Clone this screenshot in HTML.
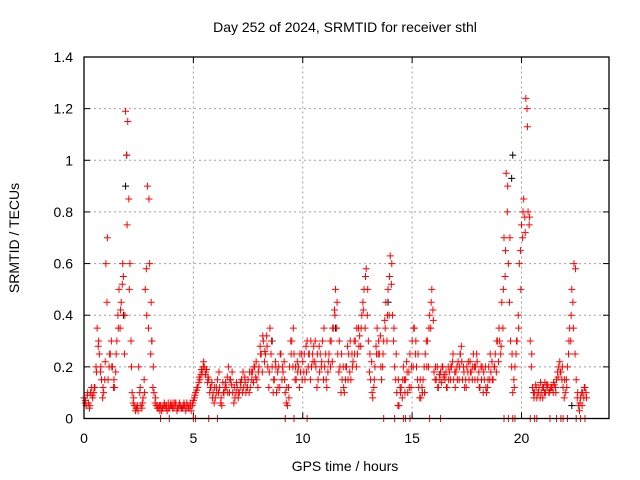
<!DOCTYPE html>
<html><head><meta charset="utf-8"><style>
body{margin:0;background:#fff}
svg{display:block;font-family:"Liberation Sans",sans-serif}
</style></head><body>
<svg id="chart" width="640" height="480" viewBox="0 0 640 480" xmlns="http://www.w3.org/2000/svg">
<rect width="640" height="480" fill="#fff"/>
<text x="345" y="32" font-size="14" text-anchor="middle" fill="#000">Day 252 of 2024, SRMTID for receiver sthl</text>
<text transform="translate(19,238) rotate(-90)" font-size="14" text-anchor="middle">SRMTID / TECUs</text>
<text x="345" y="471" font-size="14" text-anchor="middle">GPS time / hours</text>
<g id="grid"></g>
<g id="ticks"></g>
<g id="pts"></g>
<rect x="84" y="57" width="525" height="361.5" fill="none" stroke="#000" stroke-width="1.3"/>
</svg>
<script>
const xTicks=[0,5,10,15,20];
const yTicks=[0,0.2,0.4,0.6,0.8,1,1.2,1.4];
const yTickLabels=["0","0.2","0.4","0.6","0.8","1","1.2","1.4"];
const redA=[0.08,0.05,0.06,0.1,0.08,0.12,0.35,0.25,0.15,0.1,0.6,0.15,0.25,0.2,0.12,0.3,0.5,0.45,0.55,1.19,1.15,0.6,0.1,0.05,0.04,0.2,0.05,0.08,0.5,0.9,0.6,0.3,0.1,0.05,0.04,0.05,0.04,0.05,0.03,0.04,0.05,0.04,0.06,0.04,0.05,0.04,0.05,0.06,0.04,0.03,0.07,0.1,0.12,0.15,0.18,0.2,0.19,0.15,0.12,0.1,0.08,0.15,0.12,0.05,0.1,0.12,0.2,0.15,0.1,0.08,0.12,0.1,0.15,0.12,0.1,0.15,0.12,0.18,0.2,0.15,0.2,0.25,0.3,0.25,0.2,0.35,0.2,0.15,0.1,0.2,0.25,0.18,0.1,0.05,0.2,0.3,0.25,0.15,0.2,0.18,0.22,0.15,0.3,0.25,0.2,0.28,0.2,0.15,0.25,0.3,0.2,0.12,0.25,0.3,0.35,0.5,0.25,0.2,0.15,0.1,0.2,0.25,0.15,0.22,0.3,0.25,0.32,0.4,0.5,0.58,0.3,0.15,0.08,0.2,0.35,0.25,0.15,0.3,0.45,0.5,0.63,0.4,0.2,0.1,0.05,0.12,0.2,0.15,0.1,0.25,0.3,0.35,0.2,0.12,0.08,0.15,0.25,0.3,0.4,0.5,0.18,0.15,0.12,0.18,0.2,0.15,0.12,0.18,0.2,0.15,0.18,0.22,0.25,0.15,0.12,0.2,0.15,0.18,0.25,0.2,0.15,0.12,0.2,0.15,0.1,0.2,0.18,0.15,0.25,0.3,0.3,0.45,0.7,0.95,0.6,0.3,0.1,0.2,0.3,0.6,0.75,0.85,1.24,0.8,0.3,0.12,0.1,0.08,0.12,0.1,0.12,0.1,0.13,0.11,0.12,0.13,0.15,0.2,0.18,0.12,0.1,0.2,0.35,0.5,0.6,0.15,0.05,0.08,0.1,0.12];
const redB=[0.06,0.09,0.04,0.12,0.1,0.2,0.28,0.18,0.08,0.15,0.45,0.2,0.3,0.12,0.18,0.4,0.35,0.52,0.25,1.02,0.85,0.3,0.06,0.03,0.05,0.1,0.04,0.15,0.58,0.35,0.25,0.12,0.06,0.04,0.05,0.03,0.05,0.04,0.06,0.05,0.04,0.06,0.03,0.05,0.04,0.05,0.03,0.05,0.06,0.05,0.08,0.11,0.14,0.17,0.2,0.17,0.14,0.1,0.14,0.06,0.12,0.1,0.06,0.14,0.12,0.16,0.1,0.13,0.06,0.1,0.08,0.14,0.1,0.16,0.12,0.1,0.18,0.14,0.16,0.12,0.28,0.18,0.22,0.32,0.12,0.25,0.1,0.22,0.18,0.12,0.15,0.22,0.06,0.12,0.3,0.2,0.15,0.22,0.12,0.25,0.18,0.28,0.2,0.15,0.25,0.22,0.12,0.28,0.2,0.15,0.25,0.18,0.3,0.22,0.42,0.35,0.18,0.1,0.2,0.15,0.28,0.18,0.25,0.3,0.2,0.35,0.28,0.45,0.35,0.4,0.18,0.22,0.12,0.28,0.25,0.32,0.2,0.38,0.3,0.4,0.52,0.3,0.15,0.05,0.12,0.08,0.15,0.22,0.18,0.12,0.2,0.25,0.15,0.08,0.12,0.2,0.3,0.2,0.35,0.42,0.15,0.2,0.17,0.14,0.16,0.18,0.2,0.15,0.22,0.18,0.2,0.15,0.28,0.2,0.15,0.18,0.22,0.15,0.2,0.25,0.18,0.2,0.1,0.2,0.12,0.15,0.22,0.2,0.18,0.22,0.25,0.35,0.55,0.8,0.45,0.2,0.15,0.25,0.4,0.65,0.7,0.78,1.2,0.75,0.2,0.1,0.13,0.1,0.08,0.12,0.1,0.13,0.1,0.12,0.1,0.12,0.18,0.22,0.15,0.08,0.15,0.25,0.3,0.45,0.25,0.08,0.03,0.1,0.08,0.1];
const redC=[0.07,0.1,0.05,0.09,0.12,0.18,0.3,0.2,0.12,0.22,0.7,0.25,0.2,0.15,0.25,0.35,0.42,0.6,0.4,0.75,0.5,0.2,0.08,0.04,0.03,0.12,0.06,0.1,0.4,0.85,0.45,0.2,0.08,0.05,0.03,0.04,0.06,0.05,0.04,0.06,0.06,0.05,0.04,0.06,0.04,0.06,0.04,0.04,0.05,0.06,0.09,0.12,0.16,0.19,0.22,0.18,0.16,0.12,0.08,0.12,0.1,0.18,0.08,0.1,0.14,0.1,0.15,0.18,0.12,0.14,0.1,0.12,0.18,0.14,0.12,0.18,0.15,0.2,0.22,0.18,0.25,0.32,0.26,0.28,0.18,0.3,0.15,0.2,0.12,0.25,0.2,0.15,0.12,0.08,0.25,0.35,0.2,0.18,0.25,0.15,0.25,0.18,0.25,0.3,0.22,0.3,0.25,0.18,0.22,0.35,0.15,0.22,0.2,0.35,0.4,0.45,0.3,0.25,0.12,0.2,0.15,0.3,0.2,0.25,0.35,0.28,0.35,0.42,0.55,0.5,0.25,0.1,0.15,0.25,0.3,0.2,0.25,0.35,0.4,0.55,0.6,0.35,0.25,0.15,0.1,0.15,0.1,0.18,0.12,0.2,0.35,0.3,0.25,0.15,0.1,0.1,0.2,0.35,0.45,0.38,0.2,0.12,0.15,0.2,0.17,0.12,0.15,0.2,0.25,0.12,0.15,0.2,0.22,0.18,0.12,0.22,0.18,0.2,0.15,0.22,0.12,0.15,0.18,0.12,0.15,0.25,0.15,0.2,0.3,0.35,0.28,0.5,0.65,0.9,0.7,0.25,0.12,0.3,0.35,0.5,0.8,0.72,1.13,0.78,0.25,0.08,0.12,0.1,0.14,0.08,0.14,0.12,0.1,0.12,0.14,0.1,0.16,0.18,0.2,0.15,0.12,0.3,0.4,0.35,0.58,0.1,0.06,0.05,0.12,0.08];
const zeroTimes=[3.5,3.9,5.0,5.1,5.7,6.1,9.2,9.6,10.2,13.7,14.2,14.6,14.7,14.9,15.8,16.3,19.2,19.4,19.6,19.7,20.4,20.6,20.7,21.3,21.6,21.8,21.9,22.1,22.5,22.7,22.9];
const blackT=[1.8,1.9,1.95,3.1,11.5,13.9,19.55,19.6,8.6,17.2,21.0,22.3];
const blackV=[0.4,0.9,1.02,0.3,0.35,0.45,0.93,1.02,0.3,0.25,0.12,0.05];

const X0=84,X1=609,Y0=418.5,Y1=57;
const xs=t=>X0+(X1-X0)*t/24;
const ys=v=>Y0-(Y0-Y1)*v/1.4;
const NS="http://www.w3.org/2000/svg";
const grid=document.getElementById('grid'),ticks=document.getElementById('ticks'),pts=document.getElementById('pts');
function mk(tag,attrs,parent){const e=document.createElementNS(NS,tag);for(const k in attrs)e.setAttribute(k,attrs[k]);parent.appendChild(e);return e;}
xTicks.forEach(t=>{
  const x=xs(t);
  if(t>0){const g=mk('line',{x1:x,x2:x,y1:Y0,y2:Y1,stroke:'#a0a0a0','stroke-dasharray':'2,3'},grid);
  
  }
  mk('line',{x1:x,x2:x,y1:Y0,y2:Y0-6,stroke:'#000'},ticks);
  mk('line',{x1:x,x2:x,y1:Y1,y2:Y1+6,stroke:'#000'},ticks);
  const l=mk('text',{x:x,y:443,'font-size':14,'text-anchor':'middle'},ticks);l.textContent=t;
  
  
});
yTicks.forEach((v,i)=>{
  const y=ys(v);
  if(v>0&&v<1.4){const g=mk('line',{x1:X0,x2:X1,y1:y,y2:y,stroke:'#a0a0a0','stroke-dasharray':'2,3'},grid);
  
  }
  mk('line',{x1:X0,x2:X0+6,y1:y,y2:y,stroke:'#000'},ticks);
  mk('line',{x1:X1,x2:X1-6,y1:y,y2:y,stroke:'#000'},ticks);
  const l=mk('text',{x:73,y:y+5,'font-size':14,'text-anchor':'end'},ticks);l.textContent=yTickLabels[i];
  
  
});
function plus(t,v,col){
  const x=xs(t),y=ys(v);
  const p=mk('path',{d:`M${x-3.5},${y}h7M${x},${y-3.5}v7`,stroke:col,'stroke-width':1,fill:'none'},pts);
  
  
}
blackT.forEach((t,i)=>plus(t,blackV[i],'#000'));
redA.forEach((v,i)=>plus(i*0.1,v,'#f00'));
redB.forEach((v,i)=>plus(i*0.1+0.05,v,'#f00'));
redC.forEach((v,i)=>plus(i*0.1+0.07,v,'#f00'));
zeroTimes.forEach(t=>plus(t,0,'#f00'));
</script>
</body></html>
